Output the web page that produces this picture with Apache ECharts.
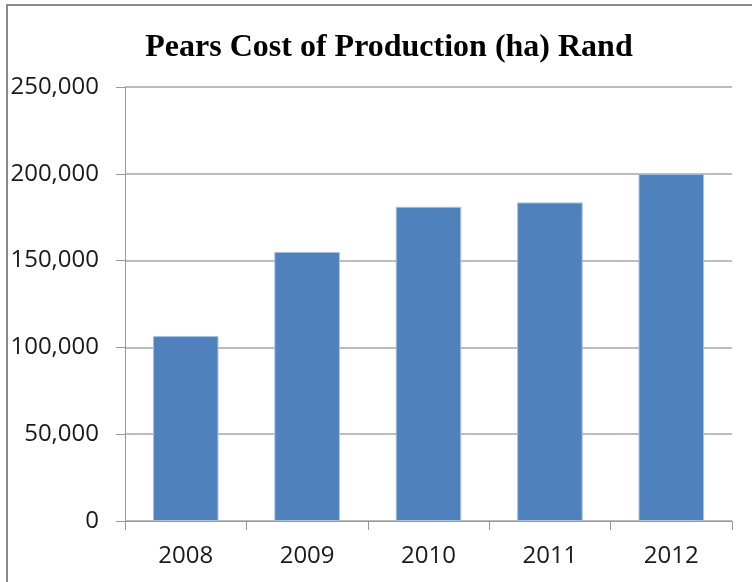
<!DOCTYPE html>
<html>
<head>
<meta charset="utf-8">
<script src="https://cdn.jsdelivr.net/npm/echarts@6/dist/echarts.min.js"></script>
<style>
html,body{margin:0;padding:0;background:#fff;}
#chart{width:752px;height:582px;}
</style>
</head>
<body>
<div id="chart"></div>
<script>
const titleText = 'Pears Cost of Production (ha) Rand';
const categories = ['2008', '2009', '2010', '2011', '2012'];
const values = [106500, 155000, 181000, 183500, 200000];
const yTicks = { min: 0, max: 250000, interval: 50000 };

const chart = echarts.init(document.getElementById('chart'));
chart.setOption({
  animation: false,
  backgroundColor: '#fff',
  graphic: [{
    type: 'rect',
    shape: { x: 7, y: 5, width: 760, height: 600 },
    style: { fill: 'none', stroke: '#8a8a8a', lineWidth: 2 },
    z: 0
  }],
  title: {
    text: titleText,
    left: 384,
    textAlign: 'center',
    top: 27,
    textStyle: { fontFamily: 'Liberation Serif', fontWeight: 'bold', fontSize: 32, color: '#000' }
  },
  grid: { left: 125, right: 20, top: 87, bottom: 61, containLabel: false },
  xAxis: {
    type: 'category',
    data: categories,
    axisLine: { lineStyle: { color: '#999', width: 1 } },
    axisTick: { show: true, alignWithLabel: false, length: 9, lineStyle: { color: '#999' } },
    axisLabel: { fontFamily: 'Open Sans', fontSize: 24, color: '#1a1a1a', margin: 23 }
  },
  yAxis: {
    type: 'value',
    min: yTicks.min, max: yTicks.max, interval: yTicks.interval,
    axisLine: { show: true, lineStyle: { color: '#999', width: 1 } },
    axisTick: { show: true, length: 9, lineStyle: { color: '#999' } },
    splitLine: { lineStyle: { color: '#a6a6a6', width: 1.5 } },
    axisLabel: {
      fontFamily: 'Open Sans', fontSize: 24, color: '#1a1a1a', margin: 26,
      formatter: v => v.toLocaleString('en-US')
    }
  },
  series: [{
    type: 'bar',
    data: values,
    barWidth: '54%',
    itemStyle: { color: '#4F81BD', borderColor: '#a9c0df', borderWidth: 1 }
  }]
});
</script>
</body>
</html>
